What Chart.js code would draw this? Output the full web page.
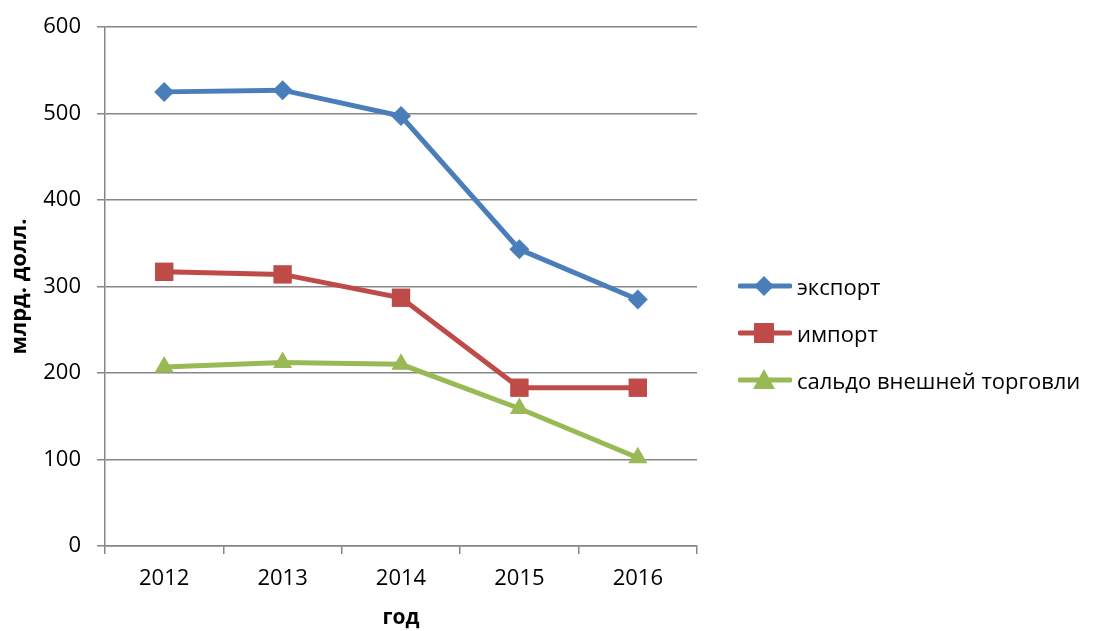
<!DOCTYPE html>
<html>
<head>
<meta charset="utf-8">
<script src="https://cdn.jsdelivr.net/npm/chart.js@4"></script>
<style>
  body { margin: 0; background: #fff; }
  #wrap { position: relative; width: 1095px; height: 631px; }
  #legend { position: absolute; left: 738px; top: 262px; font-family: "Open Sans", sans-serif; font-size: 22px; color: #000; white-space: nowrap; }
  .item { display: flex; align-items: center; height: 47px; }
  .item svg { margin-right: 5px; }
</style>
</head>
<body>
<div id="wrap">
  <canvas id="chart" width="1095" height="631"></canvas>
  <div id="legend"></div>
</div>
<script>
const years = ['2012', '2013', '2014', '2015', '2016'];
const exportVals = [525, 527, 497, 343, 285];
const importVals = [317, 314, 287, 183, 183];
const balanceVals = [207, 212, 210, 159, 102];
const seriesNames = ['экспорт', 'импорт', 'сальдо внешней торговли'];
const colors = ['#4A7EBB', '#BE4B48', '#98B954'];
const markers = ['rectRot', 'rect', 'triangle'];

const fam = '"Open Sans", sans-serif';
const gridColor = '#868686';

// маркеры: ромб, квадрат, треугольник
const radii = [10, 13, 11];

const datasets = [exportVals, importVals, balanceVals].map((vals, i) => ({
  label: seriesNames[i],
  data: vals,
  borderColor: colors[i],
  backgroundColor: colors[i],
  borderWidth: 5,
  pointStyle: markers[i],
  pointRadius: radii[i],
  pointBorderWidth: 0,
  tension: 0
}));

new Chart(document.getElementById('chart'), {
  type: 'line',
  data: { labels: years, datasets },
  options: {
    responsive: false,
    animation: false,
    layout: { padding: { top: 27, right: 398, bottom: 0, left: 0 } },
    plugins: { legend: { display: false }, tooltip: { enabled: false } },
    scales: {
      y: {
        min: 0, max: 600,
        ticks: { stepSize: 100, font: { family: fam, size: 22 }, color: '#000', padding: 16 },
        grid: { color: gridColor, lineWidth: 1.5, tickLength: 8 },
        border: { color: gridColor, width: 1.5 },
        title: { display: true, text: 'млрд. долл.', font: { family: fam, size: 22, weight: 'bold' }, color: '#000', padding: { top: 7, bottom: 0 } },
        afterFit: s => { s.width = 105; s.paddingTop = 0; s.paddingBottom = 0; }
      },
      x: {
        offset: true,
        ticks: { font: { family: fam, size: 22 }, color: '#000', padding: 12 },
        grid: { offset: true, drawOnChartArea: false, color: gridColor, lineWidth: 1.5, tickLength: 8 },
        border: { color: gridColor, width: 1.5 },
        title: { display: true, text: 'год', font: { family: fam, size: 21, weight: 'bold' }, color: '#000', padding: { top: 13, bottom: 0 } },
        afterFit: s => { s.height = 85; s.paddingLeft = 0; s.paddingRight = 0; }
      }
    }
  }
});

const legend = document.getElementById('legend');
seriesNames.forEach((name, i) => {
  const row = document.createElement('div');
  row.className = 'item';
  let mark;
  if (markers[i] === 'rectRot') mark = `<polygon points="26,1 36,11 26,21 16,11" fill="${colors[i]}"/>`;
  else if (markers[i] === 'rect') mark = `<rect x="16" y="1" width="20" height="20" fill="${colors[i]}"/>`;
  else mark = `<polygon points="26,0 37,20 15,20" fill="${colors[i]}"/>`;
  row.innerHTML = `<svg width="54" height="22"><line x1="2" y1="11" x2="52" y2="11" stroke="${colors[i]}" stroke-width="5" stroke-linecap="round"/>${mark}</svg><span>${name}</span>`;
  legend.appendChild(row);
});
</script>
</body>
</html>
